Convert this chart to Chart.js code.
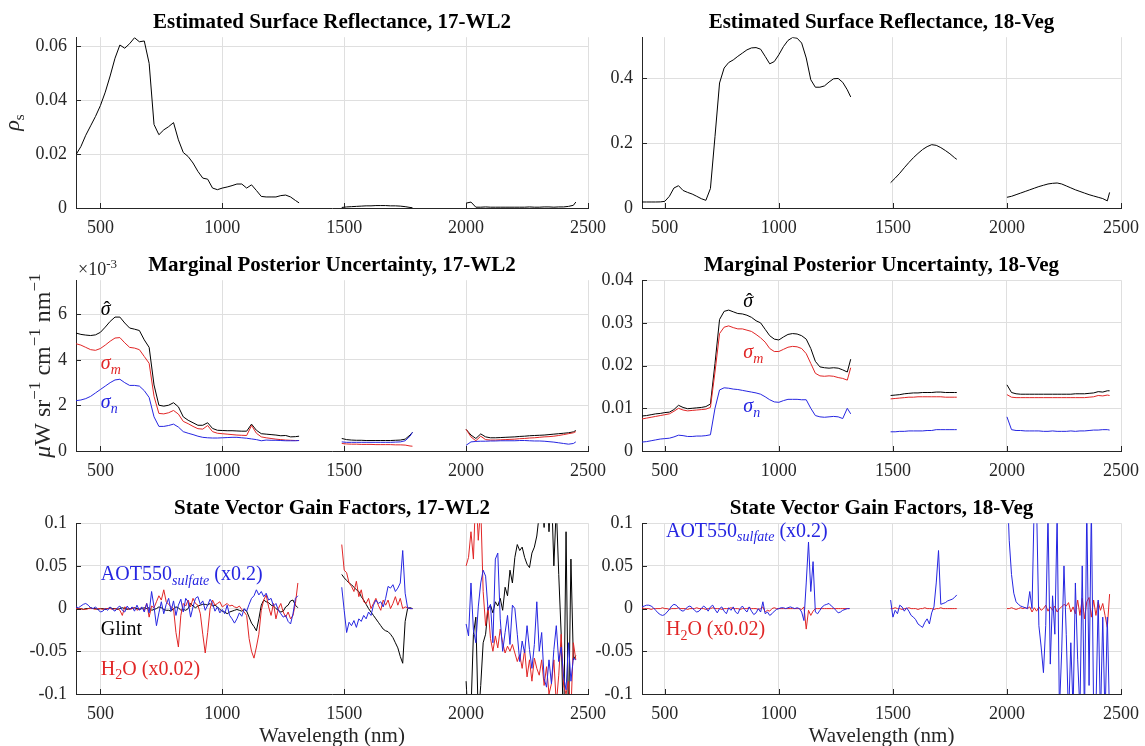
<!DOCTYPE html>
<html>
<head>
    <title>Reflectance, Uncertainty and Gain Factors</title>
    <script src="https://cdn.jsdelivr.net/npm/chart.js"></script>
    <style>
        body { margin: 0; background: #fff; }
        #fig { position: relative; width: 1145px; height: 746px; overflow: hidden; background: #fff; }
        #fig canvas { position: absolute; }
    </style>
</head>
<body>
<div id="fig"></div>
<script>
// ---- wavelength grids (nm); 1400 and 1890 are gap markers (water bands) ----
const wlCoarse = [
    400, 420, 440, 460, 480, 500, 520, 540, 560, 580,
    600, 620, 640, 660, 680, 700, 720, 740, 760, 780,
    800, 820, 840, 860, 880, 900, 920, 940, 960, 980,
    1000, 1020, 1040, 1060, 1080, 1100, 1120, 1140, 1160, 1180,
    1200, 1220, 1240, 1260, 1280, 1300, 1315,
    1400,
    1490, 1510, 1530, 1550, 1570, 1590, 1610, 1630, 1650, 1670, 1690, 1710, 1730, 1750, 1770, 1780,
    1890,
    2000, 2020, 2040, 2060, 2080, 2100, 2120, 2140, 2160, 2180,
    2200, 2220, 2240, 2260, 2280, 2300, 2320, 2340, 2360, 2380,
    2400, 2420, 2440, 2450
];
const wlFine = [
    400, 410, 420, 430, 440, 450, 460, 470, 480, 490,
    500, 510, 520, 530, 540, 550, 560, 570, 580, 590,
    600, 610, 620, 630, 640, 650, 660, 670, 680, 690,
    700, 710, 720, 730, 740, 750, 760, 770, 780, 790,
    800, 810, 820, 830, 840, 850, 860, 870, 880, 890,
    900, 910, 920, 930, 940, 950, 960, 970, 980, 990,
    1000, 1010, 1020, 1030, 1040, 1050, 1060, 1070, 1080, 1090,
    1100, 1110, 1120, 1130, 1140, 1150, 1160, 1170, 1180, 1190,
    1200, 1210, 1220, 1230, 1240, 1250, 1260, 1270, 1280, 1290,
    1300, 1310,
    1400,
    1490,
    1500, 1510, 1520, 1530, 1540, 1550, 1560, 1570, 1580, 1590,
    1600, 1610, 1620, 1630, 1640, 1650, 1660, 1670, 1680, 1690,
    1700, 1710, 1720, 1730, 1740, 1750, 1760, 1770, 1780,
    1890,
    2000, 2010, 2020, 2030, 2040, 2050, 2060, 2070, 2080, 2090,
    2100, 2110, 2120, 2130, 2140, 2150, 2160, 2170, 2180, 2190,
    2200, 2210, 2220, 2230, 2240, 2250, 2260, 2270, 2280, 2290,
    2300, 2310, 2320, 2330, 2340, 2350, 2360, 2370, 2380, 2390,
    2400, 2410, 2420, 2430, 2440, 2450
];

// ---- tick values and labels ----
const wlTicks = [500, 1000, 1500, 2000, 2500];
const wlTickLabels = ['500', '1000', '1500', '2000', '2500'];
const reflTicks17 = [0, 0.02, 0.04, 0.06];
const reflLabels17 = ['0', '0.02', '0.04', '0.06'];
const reflTicks18 = [0, 0.2, 0.4];
const reflLabels18 = ['0', '0.2', '0.4'];
const uncTicks17 = [0, 2, 4, 6];            // x 10^-3
const uncLabels17 = ['0', '2', '4', '6'];
const uncTicks18 = [0, 0.01, 0.02, 0.03, 0.04];
const uncLabels18 = ['0', '0.01', '0.02', '0.03', '0.04'];
const gainTicks = [-0.1, -0.05, 0, 0.05, 0.1];
const gainLabels = ['-0.1', '-0.05', '0', '0.05', '0.1'];

// ---- estimated surface reflectance (on wlCoarse) ----
const refl17 = [
    0.0198, 0.0228, 0.0270, 0.0305, 0.0340, 0.0380, 0.0430, 0.0490, 0.0556, 0.0605,
    0.0593, 0.0610, 0.0632, 0.0617, 0.0620, 0.0537, 0.0310, 0.0272, 0.0290, 0.0302,
    0.0317, 0.0253, 0.0206, 0.0191, 0.0167, 0.0136, 0.0111, 0.0107, 0.0074, 0.0068,
    0.0074, 0.0078, 0.0083, 0.0089, 0.0089, 0.0074, 0.0086, 0.0065, 0.0043, 0.0041,
    0.0041, 0.0041, 0.0046, 0.0048, 0.0041, 0.0028, 0.0019,
    null,
    0.0002, 0.0004, 0.0005, 0.0006, 0.0007, 0.0008, 0.0008, 0.0009, 0.0009, 0.0009, 0.0008, 0.0008, 0.0007, 0.0005, 0.0002, 0.0001,
    null,
    0.0018, 0.0022, 0.0003, 0.0003, 0.0004, 0.0003, 0.0003, 0.0003, 0.0003, 0.0003,
    0.0003, 0.0003, 0.0003, 0.0004, 0.0003, 0.0003, 0.0004, 0.0004, 0.0003, 0.0004,
    0.0004, 0.0006, 0.0010, 0.0022
];
const refl18 = [
    0.0185, 0.0185, 0.0185, 0.0185, 0.0188, 0.0205, 0.036, 0.0615, 0.0687, 0.054,
    0.048, 0.043, 0.036, 0.0287, 0.0236, 0.060, 0.22, 0.385, 0.431, 0.448,
    0.456, 0.467, 0.477, 0.487, 0.493, 0.494, 0.489, 0.467, 0.444, 0.451,
    0.472, 0.497, 0.516, 0.525, 0.523, 0.508, 0.462, 0.395, 0.372, 0.372,
    0.376, 0.388, 0.398, 0.399, 0.387, 0.364, 0.342,
    null,
    0.078, 0.092, 0.107, 0.124, 0.140, 0.155, 0.168, 0.180, 0.189, 0.195, 0.193, 0.186, 0.177, 0.167, 0.155, 0.150,
    null,
    0.033, 0.036, 0.041, 0.046, 0.051, 0.056, 0.061, 0.066, 0.070, 0.074,
    0.076, 0.077, 0.074, 0.068, 0.062, 0.056, 0.051, 0.046, 0.041, 0.037,
    0.033, 0.029, 0.022, 0.048
];

// ---- marginal posterior uncertainty, 17-WL2 (x 10^-3, on wlCoarse) ----
const sigHat17 = [
    5.18, 5.12, 5.09, 5.07, 5.10, 5.21, 5.44, 5.69, 5.88, 5.88,
    5.62, 5.40, 5.35, 5.29, 4.88, 4.55, 2.90, 2.01, 1.97, 2.01,
    2.12, 1.94, 1.50, 1.35, 1.24, 1.13, 1.13, 1.24, 0.99, 0.91,
    0.90, 0.89, 0.89, 0.88, 0.87, 0.87, 1.18, 0.91, 0.76, 0.74,
    0.72, 0.70, 0.67, 0.68, 0.62, 0.63, 0.65,
    null,
    0.55, 0.50, 0.48, 0.47, 0.47, 0.46, 0.46, 0.46, 0.46, 0.46, 0.46, 0.47, 0.48, 0.52, 0.70, 0.82,
    null,
    0.95, 0.70, 0.55, 0.75, 0.62, 0.58, 0.58, 0.59, 0.60, 0.61,
    0.62, 0.64, 0.65, 0.67, 0.68, 0.69, 0.70, 0.72, 0.74, 0.76,
    0.78, 0.80, 0.84, 0.90
];
const sigM17 = [
    4.71, 4.65, 4.55, 4.45, 4.42, 4.50, 4.65, 4.82, 4.96, 4.98,
    4.75, 4.55, 4.52, 4.45, 4.15, 3.85, 2.40, 1.65, 1.63, 1.68,
    1.78, 1.62, 1.30, 1.20, 1.08, 0.98, 0.96, 1.12, 0.85, 0.78,
    0.76, 0.74, 0.72, 0.70, 0.69, 0.68, 1.12, 0.78, 0.62, 0.58,
    0.55, 0.52, 0.50, 0.48, 0.47, 0.46, 0.46,
    null,
    0.33, 0.31, 0.30, 0.30, 0.29, 0.29, 0.29, 0.28, 0.28, 0.28, 0.28, 0.27, 0.27, 0.26, 0.22, 0.21,
    null,
    0.95, 0.62, 0.45, 0.65, 0.50, 0.48, 0.48, 0.49, 0.50, 0.51,
    0.52, 0.54, 0.55, 0.57, 0.58, 0.60, 0.62, 0.63, 0.65, 0.68,
    0.72, 0.76, 0.80, 0.85
];
const sigN17 = [
    2.21, 2.24, 2.30, 2.40, 2.55, 2.70, 2.85, 3.00, 3.12, 3.15,
    3.00, 2.88, 2.88, 2.85, 2.65, 2.35, 1.50, 1.08, 1.08, 1.12,
    1.18, 1.05, 0.85, 0.78, 0.72, 0.65, 0.60, 0.58, 0.57, 0.57,
    0.58, 0.59, 0.60, 0.60, 0.58, 0.56, 0.53, 0.50, 0.45, 0.48,
    0.47, 0.47, 0.46, 0.45, 0.45, 0.45, 0.46,
    null,
    0.40, 0.38, 0.38, 0.38, 0.38, 0.38, 0.38, 0.38, 0.38, 0.38, 0.38, 0.39, 0.40, 0.45, 0.65, 0.82,
    null,
    0.25, 0.40, 0.42, 0.43, 0.43, 0.44, 0.44, 0.45, 0.45, 0.45,
    0.45, 0.46, 0.46, 0.45, 0.44, 0.44, 0.43, 0.41, 0.39, 0.36,
    0.33, 0.30, 0.33, 0.40
];

// ---- marginal posterior uncertainty, 18-Veg (on wlCoarse) ----
const sigHat18 = [
    0.0082, 0.0083, 0.0085, 0.0087, 0.0088, 0.0090, 0.0091, 0.0097, 0.0107, 0.0102,
    0.0099, 0.0100, 0.0101, 0.0102, 0.0104, 0.0110, 0.0205, 0.0308, 0.0327, 0.0330,
    0.0326, 0.0322, 0.0321, 0.0318, 0.0313, 0.0305, 0.0300, 0.0285, 0.0270, 0.0262,
    0.0260, 0.0267, 0.0273, 0.0275, 0.0274, 0.0270, 0.0262, 0.0240, 0.0210, 0.0197,
    0.0195, 0.0194, 0.0195, 0.0194, 0.0190, 0.0185, 0.0215,
    null,
    0.0130, 0.0131, 0.0132, 0.0134, 0.0135, 0.0136, 0.0136, 0.0137, 0.0137, 0.0137, 0.0138, 0.0138, 0.0137, 0.0137, 0.0137, 0.0137,
    null,
    0.0155, 0.0137, 0.0134, 0.0133, 0.0133, 0.0133, 0.0133, 0.0133, 0.0133, 0.0133,
    0.0133, 0.0133, 0.0133, 0.0133, 0.0133, 0.0134, 0.0134, 0.0134, 0.0135, 0.0136,
    0.0139, 0.0138, 0.0141, 0.0141
];
const sigM18 = [
    0.0075, 0.0077, 0.0079, 0.0081, 0.0083, 0.0085, 0.0087, 0.0093, 0.0100, 0.0096,
    0.0094, 0.0095, 0.0096, 0.0097, 0.0098, 0.0102, 0.0185, 0.0275, 0.0290, 0.0293,
    0.0289, 0.0286, 0.0286, 0.0283, 0.0280, 0.0273, 0.0265, 0.0255, 0.0240, 0.0233,
    0.0233, 0.0238, 0.0243, 0.0245, 0.0244, 0.0240, 0.0228, 0.0205, 0.0182, 0.0176,
    0.0175, 0.0176, 0.0175, 0.0172, 0.0170, 0.0166, 0.0195,
    null,
    0.0122, 0.0123, 0.0124, 0.0125, 0.0126, 0.0126, 0.0127, 0.0127, 0.0127, 0.0127, 0.0127, 0.0127, 0.0126, 0.0126, 0.0126, 0.0126,
    null,
    0.0132, 0.0126, 0.0125, 0.0125, 0.0125, 0.0125, 0.0125, 0.0125, 0.0125, 0.0125,
    0.0125, 0.0125, 0.0125, 0.0125, 0.0125, 0.0125, 0.0125, 0.0125, 0.0126, 0.0127,
    0.0130, 0.0129, 0.0131, 0.0130
];
const sigN18 = [
    0.0021, 0.0022, 0.0024, 0.0026, 0.0028, 0.0029, 0.0030, 0.0033, 0.0037, 0.0036,
    0.0034, 0.0034, 0.0035, 0.0035, 0.0036, 0.0038, 0.0100, 0.0143, 0.0148, 0.0147,
    0.0145, 0.0144, 0.0142, 0.0140, 0.0138, 0.0136, 0.0133, 0.0127, 0.0120, 0.0115,
    0.0114, 0.0118, 0.0121, 0.0121, 0.0121, 0.0120, 0.0120, 0.0100, 0.0083, 0.0080,
    0.0079, 0.0080, 0.0081, 0.0080, 0.0076, 0.0100, 0.0087,
    null,
    0.0045, 0.0045, 0.0046, 0.0046, 0.0047, 0.0047, 0.0047, 0.0047, 0.0048, 0.0048, 0.0050, 0.0050, 0.0050, 0.0050, 0.0050, 0.0050,
    null,
    0.0080, 0.0050, 0.0048, 0.0048, 0.0047, 0.0047, 0.0047, 0.0047, 0.0046, 0.0046,
    0.0047, 0.0046, 0.0046, 0.0046, 0.0047, 0.0046, 0.0047, 0.0047, 0.0048, 0.0049,
    0.0049, 0.0050, 0.0050, 0.0049
];

// ---- state vector gain factors, 17-WL2 (on wlFine) ----
const glint17 = [
    0.000, 0.000, 0.000, -0.001, 0.000, 0.000, 0.001, 0.000, 0.000, -0.001,
    0.000, 0.000, -0.001, 0.000, 0.001, 0.000, 0.000, -0.001, 0.000, 0.001,
    0.000, -0.001, 0.000, 0.000, 0.001, 0.000, -0.001, 0.000, 0.001, 0.000,
    0.001, -0.002, -0.001, 0.000, 0.002, 0.001, -0.001, -0.002, -0.002, -0.003,
    0.000, 0.002, 0.001, -0.002, -0.001, -0.002, 0.000, 0.006, 0.003, 0.001,
    0.003, 0.004, 0.005, 0.005, 0.004, 0.006, 0.003, 0.004, 0.002, -0.001,
    -0.003, -0.004, -0.006, -0.004, -0.003, -0.002, -0.001, -0.002, -0.003, -0.001,
    -0.003, -0.010, -0.017, -0.021, -0.026, -0.012, 0.004, 0.010, 0.008, 0.007,
    0.004, 0.003, 0.000, -0.002, -0.004, -0.003, 0.002, 0.004, 0.009, 0.010,
    0.004, 0.001,
    null,
    0.040,
    0.036, 0.033, 0.030, 0.028, 0.025, 0.022, 0.020, 0.014, 0.010, 0.005,
    0.000, -0.004, -0.008, -0.012, -0.016, -0.020, -0.024, -0.026, -0.027, -0.030,
    -0.034, -0.040, -0.046, -0.056, -0.064, -0.015, 0.000, 0.001, 0.000,
    null,
    -0.085, -0.140, -0.120, -0.030, -0.010, -0.130, -0.090, -0.040, -0.030, 0.000,
    0.004, -0.005, 0.008, 0.003, 0.012, -0.002, 0.025, 0.015, 0.045, 0.030,
    0.060, 0.075, 0.068, 0.072, 0.060, 0.052, 0.048, 0.065, 0.072, 0.085,
    0.110, 0.130, 0.095, 0.150, 0.090, 0.140, 0.050, 0.120, 0.040, -0.030,
    -0.150, 0.090, -0.140, 0.058, -0.060, -0.055
];
const aot17 = [
    0.002, 0.001, 0.003, 0.005, 0.006, 0.004, 0.001, 0.000, 0.002, -0.001,
    -0.004, -0.003, 0.000, -0.002, 0.002, -0.001, -0.003, 0.001, 0.003, -0.002,
    -0.004, 0.003, -0.001, 0.002, -0.003, 0.004, -0.002, 0.002, -0.004, 0.006,
    -0.005, 0.020, 0.002, -0.020, -0.005, 0.008, -0.006, 0.005, 0.012, -0.003,
    0.009, -0.008, 0.004, 0.011, -0.004, 0.012, 0.008, -0.010, 0.002, 0.012,
    0.014, 0.005, 0.009, -0.002, 0.004, 0.011, 0.006, -0.003, 0.002, -0.005,
    -0.001, -0.006, 0.004, -0.008, -0.012, -0.017, -0.012, -0.005, -0.009, 0.000,
    -0.003, 0.005, 0.012, 0.015, 0.022, 0.016, 0.020, 0.014, 0.018, 0.010,
    0.012, 0.003, 0.006, -0.002, -0.006, -0.010, -0.008, -0.015, -0.018, -0.006,
    0.012, 0.015,
    null,
    0.025,
    -0.002, -0.028, -0.016, -0.020, -0.014, -0.022, -0.012, -0.015, -0.008, -0.012,
    -0.004, -0.008, 0.004, 0.010, 0.006, 0.008, 0.002, 0.012, 0.026, 0.024,
    0.028, 0.020, 0.024, 0.030, 0.068, 0.018, 0.001, 0.000, 0.000,
    null,
    -0.018, -0.032, 0.030, -0.025, -0.040, 0.002, 0.030, 0.045, 0.038, -0.002,
    0.005, -0.040, 0.058, 0.065, -0.012, -0.050, -0.028, -0.008, -0.042, 0.004,
    0.000, -0.030, -0.062, -0.038, -0.052, -0.020, -0.048, -0.070, -0.042, 0.008,
    -0.050, -0.028, -0.082, -0.092, -0.060, -0.088, -0.048, -0.020, -0.062, -0.045,
    -0.080, -0.095, -0.040, -0.085, -0.058, -0.060
];
const h2o17 = [
    0.000, 0.000, 0.000, -0.001, -0.001, 0.000, 0.000, 0.000, -0.001, 0.000,
    0.000, -0.001, 0.000, 0.000, 0.000, -0.001, 0.000, 0.000, -0.002, -0.008,
    0.002, 0.000, -0.001, 0.000, 0.001, -0.002, 0.000, 0.001, -0.002, 0.006,
    -0.010, 0.003, 0.001, 0.008, 0.015, 0.010, 0.022, 0.008, 0.005, 0.002,
    0.000, -0.028, -0.045, -0.008, 0.006, 0.003, 0.010, 0.002, 0.012, 0.006,
    0.004, -0.006, -0.030, -0.052, -0.028, 0.000, 0.010, 0.004, 0.006, 0.008,
    0.002, 0.004, 0.006, 0.003, 0.004, 0.002, 0.001, 0.003, -0.001, -0.004,
    -0.008, -0.035, -0.050, -0.058, -0.045, -0.030, -0.002, 0.010, 0.016, 0.002,
    -0.008, 0.006, -0.012, 0.000, 0.006, -0.004, -0.010, -0.004, -0.012, -0.008,
    0.006, 0.030,
    null,
    0.075,
    0.045, 0.042, 0.030, 0.026, 0.020, 0.032, 0.014, 0.022, 0.008, 0.006,
    0.012, 0.000, 0.006, 0.012, 0.004, -0.002, 0.010, 0.004, 0.010, 0.000,
    0.006, 0.014, 0.004, 0.012, 0.000, 0.002, 0.001, 0.000, 0.000,
    null,
    0.050, 0.060, 0.090, 0.058, 0.140, 0.080, 0.120, 0.020, -0.020, 0.002,
    -0.035, -0.050, -0.032, -0.046, -0.024, -0.040, -0.052, -0.044, -0.050, -0.042,
    -0.052, -0.062, -0.054, -0.070, -0.048, -0.080, -0.060, -0.085, -0.058, -0.070,
    -0.078, -0.060, -0.090, -0.068, -0.100, -0.088, -0.060, -0.112, -0.078, -0.030,
    -0.090, -0.100, -0.085, -0.120, -0.040, -0.060
];

// ---- state vector gain factors, 18-Veg (on wlFine) ----
const aot18 = [
    0.002, 0.003, 0.004, 0.004, 0.003, 0.001, -0.002, -0.005, -0.007, -0.008,
    -0.007, -0.004, -0.001, 0.003, 0.005, 0.004, 0.001, -0.002, -0.003, -0.001,
    0.002, 0.003, 0.001, -0.002, -0.004, -0.003, 0.000, 0.003, 0.001, -0.003,
    0.002, 0.004, -0.001, -0.005, 0.000, 0.002, -0.003, -0.006, 0.001, -0.002,
    0.002, -0.004, -0.006, 0.000, 0.003, -0.001, -0.004, 0.002, -0.003, -0.007,
    -0.005, 0.000, -0.004, 0.008, -0.006, -0.004, -0.008, -0.006, -0.003, -0.001,
    0.000, 0.001, 0.001, 0.000, 0.001, 0.002, 0.001, 0.000, 0.001, 0.000,
    -0.004, -0.014, 0.030, 0.078, 0.020, 0.055, -0.004, -0.006, -0.002, 0.002,
    0.004, 0.005, 0.006, 0.003, 0.001, -0.002, -0.005, -0.004, -0.002, -0.001,
    0.000, 0.000,
    null,
    0.010,
    -0.010, -0.002, -0.006, 0.004, 0.002, -0.003, 0.001, -0.003, -0.008, -0.010,
    -0.013, -0.018, -0.020, -0.022, -0.016, -0.012, -0.018, -0.005, 0.002, 0.030,
    0.068, 0.005, 0.006, 0.007, 0.009, 0.010, 0.011, 0.013, 0.016,
    null,
    0.150, 0.080, 0.040, 0.018, 0.008, 0.005, 0.003, 0.002, 0.001, 0.000,
    0.020, 0.000, 0.130, 0.120, -0.020, -0.045, -0.075, -0.020, 0.110, -0.065,
    0.015, -0.030, 0.110, -0.120, -0.050, 0.050, -0.030, -0.130, -0.040, -0.120,
    0.030, -0.060, -0.120, 0.050, -0.130, 0.120, -0.090, 0.120, -0.120, -0.120,
    0.010, -0.130, -0.010, -0.130, -0.010, -0.130
];
const h2o18 = [
    0.001, 0.000, 0.000, 0.000, -0.001, 0.000, 0.000, 0.000, 0.000, 0.001,
    0.000, 0.000, -0.001, 0.000, 0.000, 0.000, 0.001, 0.000, 0.000, 0.000,
    -0.001, 0.000, 0.000, 0.000, 0.001, 0.000, 0.000, 0.000, -0.001, 0.000,
    0.000, 0.001, 0.000, 0.000, 0.000, -0.001, 0.000, 0.000, 0.000, 0.001,
    0.000, 0.000, 0.000, -0.001, 0.000, 0.000, 0.000, 0.001, 0.000, 0.000,
    0.000, -0.001, 0.000, 0.002, -0.004, -0.002, -0.003, 0.000, 0.001, 0.000,
    0.000, 0.000, 0.000, 0.000, 0.000, 0.000, 0.000, 0.000, 0.000, 0.000,
    -0.001, 0.002, -0.024, -0.002, -0.008, -0.003, 0.000, 0.000, 0.000, 0.000,
    0.000, 0.000, 0.000, 0.000, 0.000, 0.000, 0.000, 0.000, 0.000, 0.000,
    0.000, 0.000,
    null,
    0.000,
    0.000, 0.001, 0.000, 0.000, -0.001, 0.000, 0.000, 0.001, 0.000, 0.000,
    0.000, -0.001, 0.000, 0.000, 0.001, 0.000, 0.000, 0.000, -0.001, 0.000,
    0.000, 0.001, 0.000, 0.000, 0.000, 0.000, 0.000, 0.000, 0.000,
    null,
    0.000, 0.000, 0.001, 0.000, -0.001, 0.000, 0.001, 0.000, 0.001, 0.000,
    0.002, -0.004, 0.001, -0.003, 0.002, -0.002, 0.000, 0.004, -0.003, 0.002,
    -0.002, 0.003, -0.004, 0.000, 0.002, 0.005, 0.003, 0.007, -0.004, 0.002,
    -0.006, 0.010, -0.008, 0.012, -0.012, 0.008, 0.013, -0.010, 0.010, -0.008,
    0.008, -0.002, 0.006, -0.008, -0.022, 0.017
];

// ---- look ----
const SERIF = '"Liberation Serif", "Times New Roman", Times, serif';
const INK = '#262626';
const GRID = '#dfdfdf';
const BLACK = '#000000';
const RED = 'rgb(225,38,38)';
const BLUE = 'rgb(38,38,225)';

// plot-area geometry of the 3x2 grid (page pixels)
const colLeft = [76, 642];
const colWidth = [512, 479];
const rowTop = [37, 280, 523];
const PLOT_H = 171;
const PAD_L = 72, PAD_R = 30, PAD_T = 31;

// rich text: parts [{t, it, sub, sup, hat}]
function partFont(p, size) {
    const s = (p.sub || p.sup) ? Math.round(size * 0.7) : size;
    return (p.it ? 'italic ' : '') + s + 'px ' + SERIF;
}
function richWidth(ctx, parts, size) {
    let w = 0;
    parts.forEach(p => { ctx.font = partFont(p, size); w += ctx.measureText(p.t).width; });
    return w;
}
function drawRich(ctx, parts, x, y, size, color) {
    ctx.fillStyle = color;
    ctx.textBaseline = 'alphabetic';
    let cx = x;
    parts.forEach(p => {
        ctx.font = partFont(p, size);
        ctx.textAlign = 'left';
        const dy = p.sub ? size * 0.22 : (p.sup ? -size * 0.42 : 0);
        ctx.fillText(p.t, cx, y + dy);
        const w = ctx.measureText(p.t).width;
        if (p.hat) {
            ctx.font = size + 'px ' + SERIF;
            ctx.textAlign = 'center';
            ctx.fillText('\u02C6', cx + w / 2 + 1, y + 1);
            ctx.font = partFont(p, size);
        }
        cx += w;
    });
}

// inward tick marks, axis titles and curve annotations
const overlay = {
    id: 'overlay',
    afterDraw(chart, args, opts) {
        const ctx = chart.ctx, a = chart.chartArea;
        const xs = chart.scales.x, ys = chart.scales.y;
        ctx.save();
        ctx.strokeStyle = INK;
        ctx.lineWidth = 1;
        ctx.beginPath();
        xs.ticks.forEach(t => {
            const px = Math.round(xs.getPixelForValue(t.value)) + 0.5;
            ctx.moveTo(px, a.bottom); ctx.lineTo(px, a.bottom - 5);
        });
        ys.ticks.forEach(t => {
            const py = Math.round(ys.getPixelForValue(t.value)) + 0.5;
            ctx.moveTo(a.left, py); ctx.lineTo(a.left + 5, py);
        });
        ctx.stroke();

        (opts.notes || []).forEach(n => {
            drawRich(ctx, n.parts, xs.getPixelForValue(n.x), ys.getPixelForValue(n.y), 20, n.color);
        });

        if (opts.exp) {
            drawRich(ctx, opts.exp, a.left + 2, a.top - 5, 18, INK);
        }

        if (opts.yTitle) {
            const yt = opts.yTitle;
            const w = richWidth(ctx, yt.parts, yt.size);
            ctx.translate(a.left - yt.offset, (a.top + a.bottom) / 2);
            ctx.rotate(-Math.PI / 2);
            drawRich(ctx, yt.parts, -w / 2, 0, yt.size, INK);
        }
        ctx.restore();
    }
};

const sigmaHat = [{ t: '\u03C3', it: true, hat: true }];
const sigmaM = [{ t: '\u03C3', it: true }, { t: 'm', it: true, sub: true }];
const sigmaN = [{ t: '\u03C3', it: true }, { t: 'n', it: true, sub: true }];
const aotText = [{ t: 'AOT550' }, { t: 'sulfate', it: true, sub: true }, { t: ' (x0.2)' }];
const h2oText = [{ t: 'H' }, { t: '2', sub: true }, { t: 'O (x0.02)' }];

const panels = [
    {
        col: 0, row: 0, title: 'Estimated Surface Reflectance, 17-WL2',
        yMin: 0, yMax: 0.0634, yTicks: reflTicks17, yLabels: reflLabels17,
        series: [{ wl: wlCoarse, vals: refl17, color: BLACK }],
        yTitle: { parts: [{ t: '\u03C1', it: true }, { t: 's', sub: true }], size: 22, offset: 57 }
    },
    {
        col: 1, row: 0, title: 'Estimated Surface Reflectance, 18-Veg',
        yMin: 0, yMax: 0.526, yTicks: reflTicks18, yLabels: reflLabels18,
        series: [{ wl: wlCoarse, vals: refl18, color: BLACK }]
    },
    {
        col: 0, row: 1, title: 'Marginal Posterior Uncertainty, 17-WL2',
        yMin: 0, yMax: 7.5, yTicks: uncTicks17, yLabels: uncLabels17,
        series: [
            { wl: wlCoarse, vals: sigN17, color: BLUE },
            { wl: wlCoarse, vals: sigM17, color: RED },
            { wl: wlCoarse, vals: sigHat17, color: BLACK }
        ],
        notes: [
            { parts: sigmaHat, x: 502, y: 5.99, color: BLACK },
            { parts: sigmaM, x: 502, y: 3.59, color: RED },
            { parts: sigmaN, x: 502, y: 1.87, color: BLUE }
        ],
        exp: [{ t: '\u00D710' }, { t: '-3', sup: true }],
        yTitle: {
            parts: [{ t: '\u03BC', it: true }, { t: 'W sr' }, { t: '\u22121', sup: true },
                    { t: ' cm' }, { t: '\u22121', sup: true }, { t: ' nm' }, { t: '\u22121', sup: true }],
            size: 24, offset: 26
        }
    },
    {
        col: 1, row: 1, title: 'Marginal Posterior Uncertainty, 18-Veg',
        yMin: 0, yMax: 0.04, yTicks: uncTicks18, yLabels: uncLabels18,
        series: [
            { wl: wlCoarse, vals: sigN18, color: BLUE },
            { wl: wlCoarse, vals: sigM18, color: RED },
            { wl: wlCoarse, vals: sigHat18, color: BLACK }
        ],
        notes: [
            { parts: sigmaHat, x: 844, y: 0.0337, color: BLACK },
            { parts: sigmaM, x: 844, y: 0.0217, color: RED },
            { parts: sigmaN, x: 844, y: 0.0091, color: BLUE }
        ]
    },
    {
        col: 0, row: 2, title: 'State Vector Gain Factors, 17-WL2', xTitle: 'Wavelength (nm)',
        yMin: -0.1, yMax: 0.1, yTicks: gainTicks, yLabels: gainLabels,
        series: [
            { wl: wlFine, vals: aot17, color: BLUE },
            { wl: wlFine, vals: h2o17, color: RED },
            { wl: wlFine, vals: glint17, color: BLACK }
        ],
        notes: [
            { parts: aotText, x: 502, y: 0.033, color: BLUE },
            { parts: [{ t: 'Glint' }], x: 502, y: -0.0314, color: BLACK },
            { parts: h2oText, x: 502, y: -0.0773, color: RED }
        ]
    },
    {
        col: 1, row: 2, title: 'State Vector Gain Factors, 18-Veg', xTitle: 'Wavelength (nm)',
        yMin: -0.1, yMax: 0.1, yTicks: gainTicks, yLabels: gainLabels,
        series: [
            { wl: wlFine, vals: aot18, color: BLUE },
            { wl: wlFine, vals: h2o18, color: RED }
        ],
        notes: [
            { parts: aotText, x: 505, y: 0.0843, color: BLUE },
            { parts: h2oText, x: 505, y: -0.0314, color: RED }
        ]
    }
];

const fig = document.getElementById('fig');

panels.forEach(p => {
    const L = colLeft[p.col], W = colWidth[p.col], T = rowTop[p.row];
    const padB = p.xTitle ? 55 : 40;
    const cv = document.createElement('canvas');
    cv.width = W + PAD_L + PAD_R;
    cv.height = PLOT_H + PAD_T + padB;
    cv.style.width = cv.width + 'px';
    cv.style.height = cv.height + 'px';
    cv.style.left = (L - PAD_L) + 'px';
    cv.style.top = (T - PAD_T) + 'px';
    fig.appendChild(cv);

    new Chart(cv.getContext('2d'), {
        type: 'line',
        data: {
            datasets: p.series.map(s => ({
                data: s.wl.map((x, i) => ({ x: x, y: s.vals[i] })),
                borderColor: s.color,
                borderWidth: 1,
                pointRadius: 0,
                tension: 0,
                spanGaps: false,
                fill: false
            }))
        },
        options: {
            responsive: false,
            animation: false,
            events: [],
            layout: { padding: { top: 4, right: PAD_R, bottom: 0, left: 0 } },
            plugins: {
                legend: { display: false },
                tooltip: { enabled: false },
                title: {
                    display: true,
                    text: p.title,
                    color: '#000',
                    fullSize: false,
                    font: { family: SERIF, size: 21, weight: 'bold' },
                    padding: { top: 0, bottom: 2 }
                },
                overlay: { notes: p.notes, exp: p.exp, yTitle: p.yTitle }
            },
            scales: {
                x: {
                    type: 'linear',
                    min: 400,
                    max: 2500,
                    afterFit: s => { s.height = padB; },
                    afterBuildTicks: s => { s.ticks = wlTicks.map(v => ({ value: v })); },
                    ticks: {
                        callback: (v, i) => wlTickLabels[i],
                        color: INK,
                        font: { family: SERIF, size: 18 },
                        padding: 9,
                        maxRotation: 0,
                        autoSkip: false
                    },
                    grid: { color: GRID, drawTicks: false },
                    border: { display: true, color: INK, width: 1 },
                    title: {
                        display: !!p.xTitle,
                        text: p.xTitle || '',
                        color: INK,
                        font: { family: SERIF, size: 21 },
                        padding: { top: 0, bottom: 0 }
                    }
                },
                y: {
                    type: 'linear',
                    min: p.yMin,
                    max: p.yMax,
                    afterFit: s => { s.width = PAD_L; },
                    afterBuildTicks: s => { s.ticks = p.yTicks.map(v => ({ value: v })); },
                    ticks: {
                        callback: (v, i) => p.yLabels[i],
                        color: INK,
                        font: { family: SERIF, size: 18 },
                        padding: 9,
                        autoSkip: false
                    },
                    grid: { color: GRID, drawTicks: false },
                    border: { display: true, color: INK, width: 1 }
                }
            }
        },
        plugins: [overlay]
    });
});
</script>
</body>
</html>
